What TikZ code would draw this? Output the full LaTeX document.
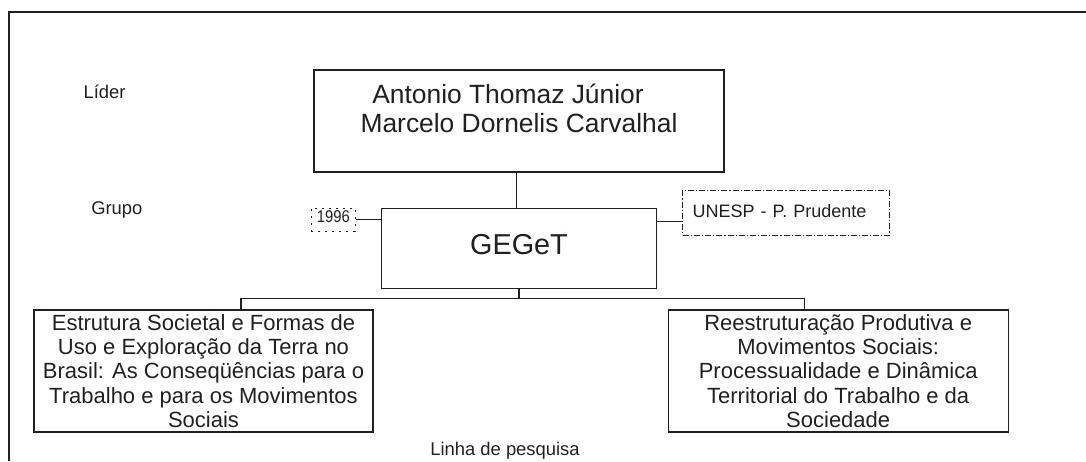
\documentclass[tikz,border=0pt]{standalone}
\usepackage{graphicx}
\usepackage{fontspec}
\setmainfont{Liberation Sans}
\usepackage{tikz}
\usetikzlibrary{positioning,calc}
\definecolor{tinta}{RGB}{35,31,32}

\begin{document}
\begin{tikzpicture}[
    font=\fontsize{9.2}{11}\selectfont,
    color=tinta,
    line width=0.6pt,
    org_box/.style={draw, rectangle, inner sep=0pt, align=center},
    ano_box/.style={draw, rectangle, inner sep=0pt, dash pattern=on 1pt off 2.5pt},
    inst_box/.style={draw, rectangle, inner sep=0pt, dash pattern=on 3pt off 1pt on 0.6pt off 1pt},
    lbl/.style={inner sep=0pt, anchor=base west}
]

\useasboundingbox (0,0) rectangle (543pt,-230.5pt);

\draw (4.5pt,-230.5pt) -- (4.5pt,-6pt) -- (543pt,-6pt);

\node[org_box, minimum width=205pt, minimum height=51pt] (lid) at (259.5pt,-60.5pt) {};

\node[inner sep=0pt, align=center, font=\fontsize{13.2}{14.5}\selectfont, below=6.8pt of lid.north] (nomes) {
    Antonio Thomaz Júnior\hspace*{11pt}\\
    Marcelo Dornelis Carvalhal
};

\node[org_box, minimum width=137.5pt, minimum height=40pt, text depth=4pt,
      font=\fontsize{14.4}{17}\selectfont, below=17.5pt of lid] (gg) {GEGeT};

\node[ano_box, minimum width=22pt, minimum height=11.5pt, text depth=2.7pt,
      font=\fontsize{8.5}{10}\selectfont, left=12.5pt of gg.north west, anchor=north east] (ano) {\scalebox{0.87}[1]{1996}};

\node[inst_box, text width=93.5pt, inner xsep=5pt, minimum height=22.5pt, text depth=2pt, align=left,
      font=\fontsize{9}{11}\selectfont, anchor=north west] (inst) at ([xshift=12.5pt,yshift=9pt]gg.north east) {UNESP - P. Prudente};

\node[org_box, minimum width=169.5pt, minimum height=61pt, font=\fontsize{11}{12.2}\selectfont] (lp1) at (101.75pt,-185.5pt) {
    Estrutura Societal e Formas de\\
    Uso e Exploração da Terra no\\
    Brasil: As Conseqüências para o\\
    Trabalho e para os Movimentos\\
    Sociais
};

\node[org_box, minimum width=170pt, minimum height=61pt, font=\fontsize{11}{12.2}\selectfont, right=147pt of lp1] (lp2) {
    Reestruturação Produtiva e\\
    Movimentos Sociais:\\
    Processualidade e Dinâmica\\
    Territorial do Trabalho e da\\
    Sociedade
};

\coordinate (bus) at ([yshift=-4.85pt]gg.south);

\draw ([xshift=-1.25pt]lid.south) -- ([xshift=-1.25pt]gg.north);
\draw (gg.south) -- (bus);
\draw ([xshift=18.75pt]lp1.north) |- (bus) -| ([xshift=-17pt]lp2.north);
\draw (ano.east) -- (ano.east -| gg.west);
\draw ([yshift=-4.25pt]inst.west) -- ([yshift=-4.25pt]inst.west -| gg.east);

\node[lbl] (t_lider) at (41.5pt,-49.15pt) {Líder};
\node[lbl] (t_grupo) at (45.35pt,-107.15pt) {Grupo};
\node[lbl, anchor=base] (t_linha) at (252.5pt,-227.5pt) {Linha de pesquisa};

\end{tikzpicture}
\end{document}
